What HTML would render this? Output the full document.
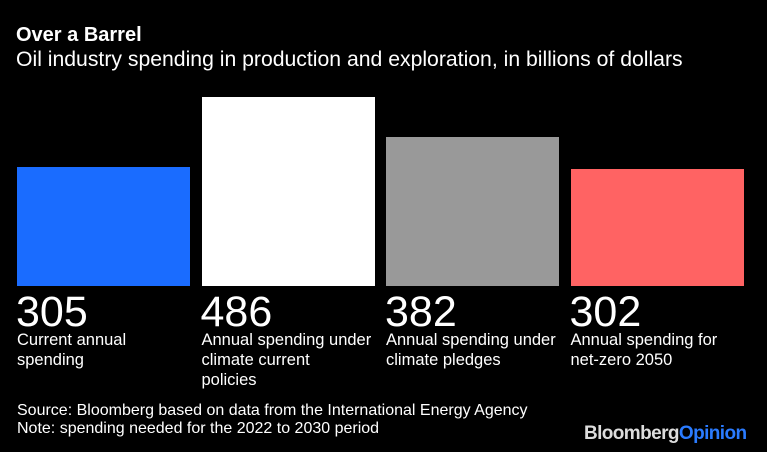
<!DOCTYPE html>
<html><head><meta charset="utf-8"><style>
body{margin:0;background:#000;width:767px;height:452px;overflow:hidden;font-family:"Liberation Sans",sans-serif;color:#fff;position:relative}
.t{position:absolute;white-space:nowrap}
</style></head><body>
<div class="t" style="left:16px;top:24px;font-size:20px;font-weight:bold">Over a Barrel</div>
<div class="t" style="left:16px;top:48px;font-size:21.2px">Oil industry spending in production and exploration, in billions of dollars</div>
<div id="chart"></div>
<div class="t" style="left:17px;top:402px;font-size:16px">Source: Bloomberg based on data from the International Energy Agency</div>
<div class="t" style="left:17px;top:420px;font-size:16px">Note: spending needed for the 2022 to 2030 period</div>
<div class="t" style="left:584px;top:423px;font-size:19px;font-weight:bold;letter-spacing:-0.6px"><span style="color:#ddd">Bloomberg</span><span style="color:#2a7bff">Opinion</span></div>
<script>
const categories=["Current annual spending","Annual spending under climate current policies","Annual spending under climate pledges","Annual spending for net-zero 2050"];
const labelLines=[["Current annual","spending"],["Annual spending under","climate current","policies"],["Annual spending under","climate pledges"],["Annual spending for","net-zero 2050"]];
const values=[305,486,382,302];
const colors=["#1a6cff","#ffffff","#999999","#ff6363"];
const baseY=286,scale=189/486,x0=17,step=184.5,bw=173;
const y=v=>baseY-v*scale;
const c=document.getElementById('chart');
values.forEach((v,i)=>{
 const b=document.createElement('div');
 
 
 b.style.cssText=`position:absolute;left:${x0+i*step}px;top:${y(v)}px;width:${bw}px;height:${baseY-y(v)}px;background:${colors[i]}`;
 c.appendChild(b);
 const n=document.createElement('div');
 n.className='t';
 
 
 n.style.cssText=`left:${x0+i*step-1}px;top:290px;font-size:43px;line-height:44px`;
 n.textContent=v;
 c.appendChild(n);
 const l=document.createElement('div');
 l.className='t';
 
 
 l.style.cssText=`left:${x0+i*step}px;top:330px;font-size:16.5px;line-height:20px`;
 l.innerHTML=labelLines[i].join('<br>');
 c.appendChild(l);
});
</script>
</body></html>
